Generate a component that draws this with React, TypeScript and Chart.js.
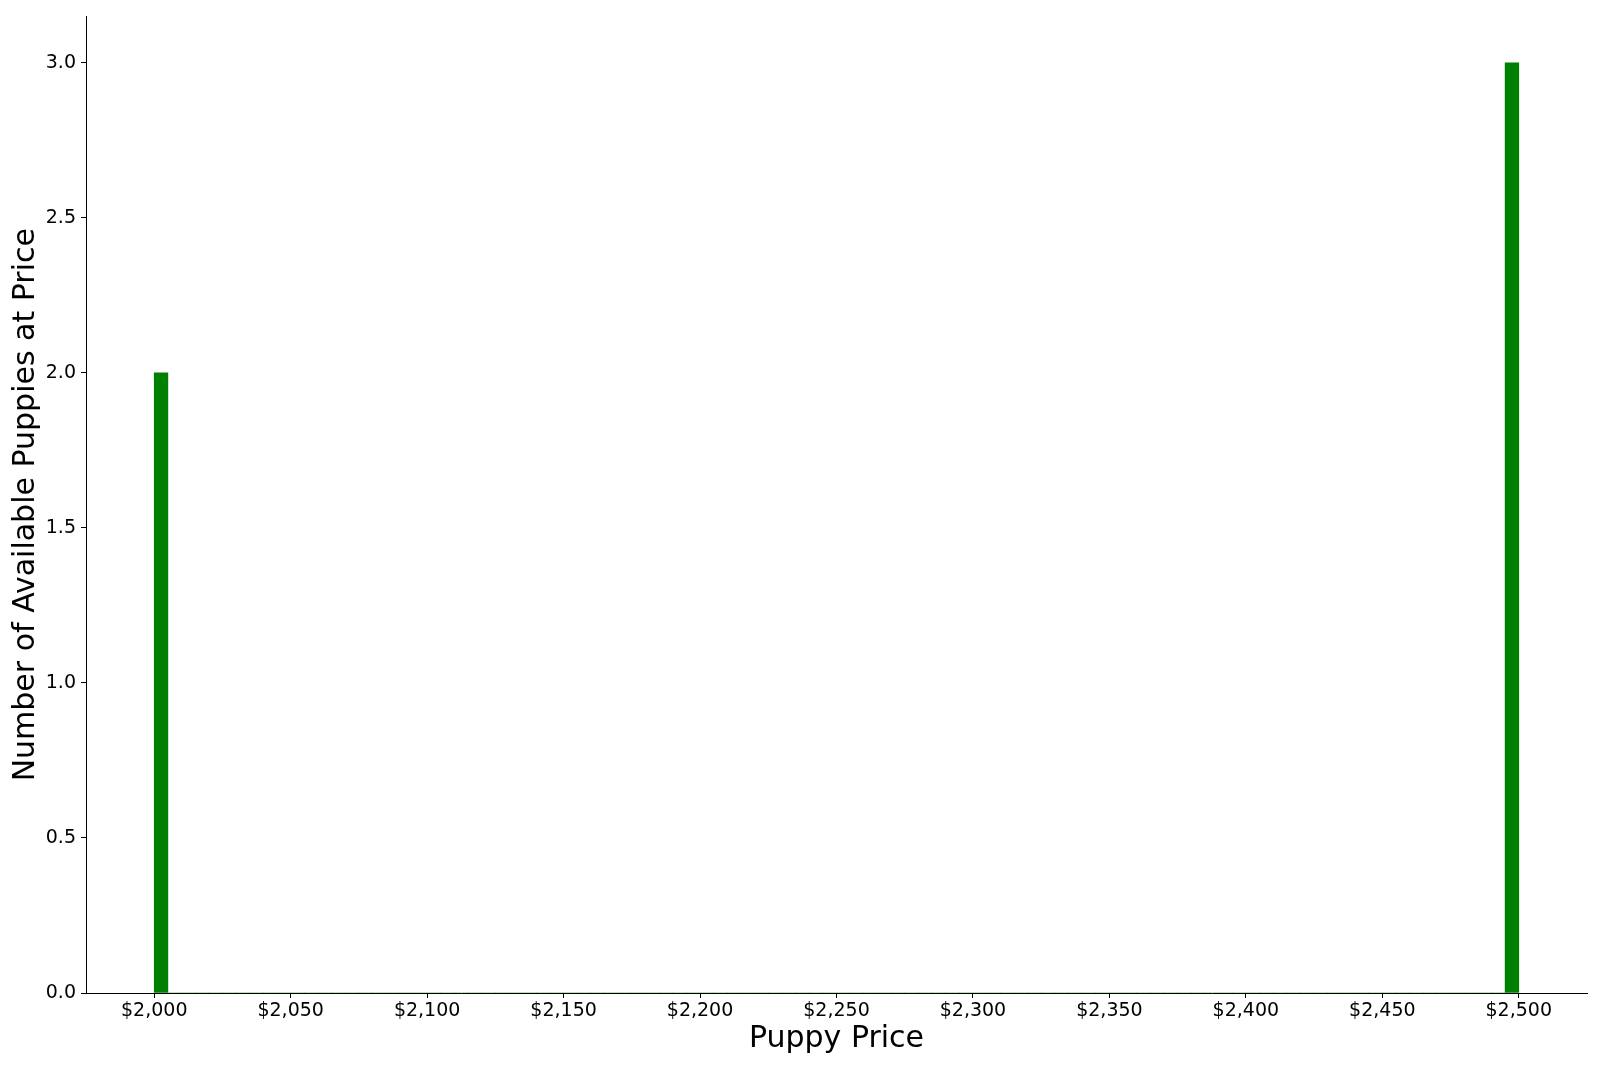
import { useEffect, useRef } from "react"
import { Chart, registerables } from "chart.js"

Chart.register(...registerables)

const puppyPrices = [2000, 2000, 2500, 2500, 2500]
const histRange = [2000, 2500]
const histBins = 100

const xTickValues = [2000, 2050, 2100, 2150, 2200, 2250, 2300, 2350, 2400, 2450, 2500]
const yTickValues = [0, 0.5, 1.0, 1.5, 2.0, 2.5, 3.0]

const FONT = "'DejaVu Sans', sans-serif"

// histograma igual que matplotlib: el último bin incluye el borde derecho
function buildHistogram() {
  const [lo, hi] = histRange
  const w = (hi - lo) / histBins
  const counts: number[] = new Array(histBins).fill(0)
  for (const p of puppyPrices) {
    const idx = Math.min(Math.floor((p - lo) / w), histBins - 1)
    counts[idx] += 1
  }
  return counts.map((c, i) => ({ x: lo + w * (i + 0.5), y: c }))
}

export default function App() {
  const chartRef = useRef<HTMLCanvasElement>(null)
  const chartInstance = useRef<Chart | null>(null)

  useEffect(() => {
    document.body.style.margin = "0"
    if (!chartRef.current) return
    if (chartInstance.current) chartInstance.current.destroy()
    const ctx = chartRef.current.getContext("2d")
    if (!ctx) return

    const span = histRange[1] - histRange[0]
    const yMax = Math.max(...buildHistogram().map((d) => d.y))

    chartInstance.current = new Chart(ctx, {
      type: "bar",
      data: {
        datasets: [
          {
            data: buildHistogram(),
            backgroundColor: "#008000",
            borderWidth: 0,
            barPercentage: 1,
            categoryPercentage: 1,
          },
        ],
      },
      options: {
        responsive: false,
        animation: false,
        devicePixelRatio: 1,
        layout: { padding: { top: 13, right: 13, left: 0, bottom: 0 } },
        plugins: {
          legend: { display: false },
          tooltip: { enabled: false },
        },
        scales: {
          x: {
            type: "linear",
            min: histRange[0] - span * 0.05,
            max: histRange[1] + span * 0.05,
            offset: false,
            afterBuildTicks: (scale: any) => {
              scale.ticks = xTickValues.map((v) => ({ value: v }))
            },
            afterFit: (scale: any) => {
              scale.height = 74
            },
            grid: {
              display: true,
              drawOnChartArea: false,
              drawTicks: true,
              tickLength: 5,
              color: "#000",
              offset: false,
            },
            border: { display: true, color: "#000", width: 1 },
            ticks: {
              color: "#000",
              font: { family: FONT, size: 19 },
              padding: 2,
              maxRotation: 0,
              autoSkip: false,
              callback: (v: any) => "$" + Number(v).toLocaleString("en-US"),
            },
            title: {
              display: true,
              text: "Puppy Price",
              color: "#000",
              font: { family: FONT, size: 30 },
              padding: { top: 4, bottom: 10 },
            },
          },
          y: {
            min: 0,
            max: yMax * 1.05,
            afterBuildTicks: (scale: any) => {
              scale.ticks = yTickValues.map((v) => ({ value: v }))
            },
            afterFit: (scale: any) => {
              scale.width = 86
            },
            grid: {
              display: true,
              drawOnChartArea: false,
              drawTicks: true,
              tickLength: 5,
              color: "#000",
            },
            border: { display: true, color: "#000", width: 1 },
            ticks: {
              color: "#000",
              font: { family: FONT, size: 19 },
              padding: 5,
              autoSkip: false,
              callback: (v: any) => Number(v).toFixed(1),
            },
            title: {
              display: true,
              text: "Number of Available Puppies at Price",
              color: "#000",
              font: { family: FONT, size: 30 },
              padding: { top: 8, bottom: 0 },
            },
          },
        },
      },
    })

    return () => {
      if (chartInstance.current) {
        chartInstance.current.destroy()
        chartInstance.current = null
      }
    }
  }, [])

  return (
    <div style={{ width: 1600, height: 1067, background: "#fff" }}>
      <canvas ref={chartRef} width={1600} height={1067} style={{ display: "block" }} />
    </div>
  )
}
